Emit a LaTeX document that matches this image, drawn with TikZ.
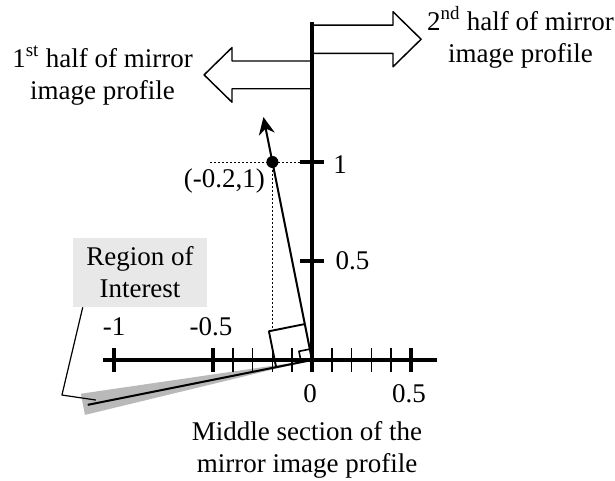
\documentclass[tikz,border=0pt]{standalone}
\usepackage{fontspec}
\setmainfont{Liberation Serif}
\usetikzlibrary{arrows.meta,calc}

\begin{document}
\begin{tikzpicture}[x=148.5pt,y=148.5pt,>={Stealth[length=13pt,width=12pt]},line join=round,
  font=\fontsize{20.25pt}{24pt}\selectfont,
  axisline/.style={line width=3pt},
  minortick/.style={line width=1.1pt},
  blockarrow/.style={line width=1.1pt,fill=white},
  guide/.style={line width=0.6pt,dash pattern=on 1.5pt off 1.5pt},
  lbl/.style={inner sep=0pt}]
\useasboundingbox (-1.5758,-0.6111) rectangle (1.5303,1.8182);
\coordinate (O) at (0,0);
\coordinate (P) at (-0.2,1);
\coordinate (tip) at (-0.2454,1.227);
% --- region of interest wedge and profile line
\fill[gray!55] (O) -- (188.3:1.18) -- (193.6:1.18) -- cycle;
\draw[line width=1.5pt] (O) -- (191.31:1.155);
% --- block arrows for the two halves
\draw[blockarrow] (0,1.691) -- (0.409,1.691) -- (0.409,1.759) -- (0.551,1.62) -- (0.409,1.481) -- (0.409,1.549) -- (0,1.549) -- cycle;
\draw[blockarrow] (0,1.51) -- (-0.404,1.51) -- (-0.404,1.578) -- (-0.545,1.44) -- (-0.404,1.302) -- (-0.404,1.37) -- (0,1.37) -- cycle;
% guides to the point
\draw[guide] (-0.515,1) -- (0,1);
\draw[guide] (P) -- (-0.2,0.149);
% --- axes
\draw[axisline] (0,-0.06) -- (0,1.709);
\draw[axisline] (-1.056,0) -- (0.631,0);
\foreach \x in {-1,-0.5,0.5} {\draw[axisline] (\x,-0.06) -- (\x,0.06);}
\foreach \y in {0.5,1} {\draw[axisline] (-0.063,\y) -- (0.063,\y);}
\foreach \x in {-0.4,-0.3,-0.2,-0.1,0.1,0.2,0.3,0.4} {\draw[minortick] (\x,-0.06) -- (\x,0.06);}
% right angle marks
\draw[line width=1.4pt] (101.31:0.185) -- (146.31:0.2616) -- (191.31:0.185);
\draw[line width=1.2pt] (101.31:0.056) -- (146.31:0.0792) -- (191.31:0.056);
% --- normal arrow and point
\draw[->,line width=1.5pt] (O) -- (tip);
\fill (P) circle (4.5pt);
% --- labels
\node[lbl,anchor=base] (xm1) at (-1,0.126) {-1};
\node[lbl,anchor=base] (xm05) at (-0.51,0.126) {-0.5};
\node[lbl,anchor=base] (x0) at (-0.01,-0.217) {0};
\node[lbl,anchor=base] (x05) at (0.49,-0.217) {0.5};
\node[lbl,anchor=base west] (y1) at (0.106,0.944) {1};
\node[lbl,anchor=base west] (y05) at (0.118,0.455) {0.5};
\node[lbl,anchor=base east] (pt) at (-0.237,0.869) {(-0.2,1)};
\node[align=center,anchor=base] (first) at (-1.058,1.318) {1\textsuperscript{st} half of mirror\\image profile};
\node[align=center,anchor=base] (second) at (1.053,1.505) {2\textsuperscript{nd} half of mirror\\image profile};
\node[align=center,anchor=base] (middle) at (-0.025,-0.566) {Middle section of the\\mirror image profile};
\node[fill=gray!18,inner sep=0pt,minimum width=100.5pt,minimum height=51.75pt,align=center] (roi) at (-0.8687,0.4419) {Region of\\Interest};
% callout
\coordinate (kink) at (-1.263,-0.177);
\coordinate (roiend) at (190.5:1.11);
\draw[line width=0.9pt] ([xshift=7.5pt]roi.south west) -- (kink) -- (roiend);
\end{tikzpicture}
\end{document}
